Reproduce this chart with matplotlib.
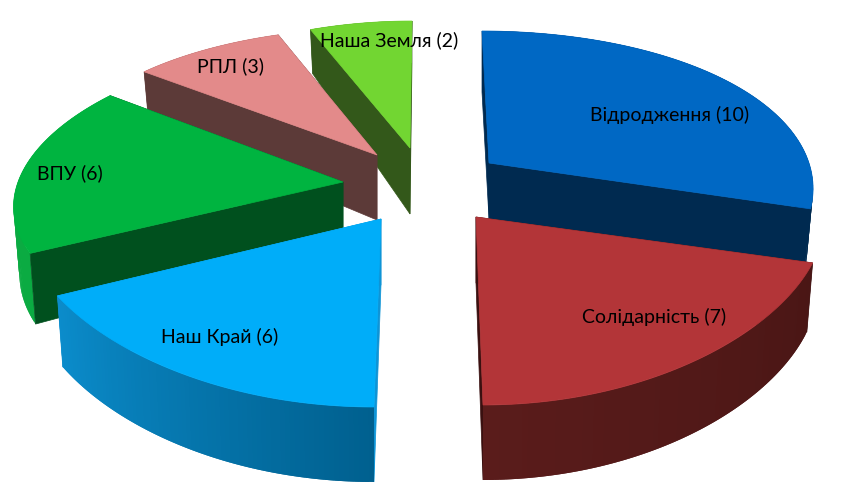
import matplotlib
matplotlib.use("Agg")
import matplotlib.pyplot as plt
from matplotlib.colors import to_rgb
import numpy as np

# ---- data ----
parties = ["Відродження", "Солідарність", "Наш Край", "ВПУ", "РПЛ", "Наша Земля"]
seats = [10, 7, 6, 6, 3, 2]

# ---- look of each slice (same order as parties) ----
top_colors = ["#0068c4", "#b33538", "#00adf9", "#00b440", "#e38a8a", "#72d632"]
radial_colors = ["#002a50", "#3a1010", "#0e94d6", "#00501e", "#5c3a38", "#33581a"]
rim_start = ["#002a50", "#4a1615", "#00608f", "#0bab42", "#5c3a38", "#33581a"]
rim_end = ["#002a50", "#5a1c1b", "#0b8ccb", "#0bab42", "#5c3a38", "#5aa528"]
apex_x = [489, 476, 381, 343, 377, 410]
apex_y = [163, 217, 219, 182, 155, 148]
rx_base = [320, 348, 358, 325, 325, 332]
rx_k = [45, 0, 0, 55, 55, 55]
ry_base = [160, 160, 160, 153, 155, 127]
ry_k = [28, 28, 28, 16, 28, 0]
shear = [-7, -7, 7, 0, 0, 2]
apex_depth = [56, 66, 66, 60, 65, 66]
rim_depth = [61, 67, 68, 64, 62, 72]
rim_depth_k = [0, 8, 7, 15, 15, 30]
label_x = [670, 654, 220, 70, 231, 389]
label_y = [115, 317, 337, 173, 66, 40]
draw_order = [5, 4, 3, 2, 0, 1]


def rim_points(i, theta):
    s, c = np.sin(theta), np.cos(theta)
    rx = rx_base[i] - rx_k[i] * c
    ry = ry_base[i] - ry_k[i] * c
    x = apex_x[i] + rx * s + shear[i] * c
    y = apex_y[i] - ry * c
    d = rim_depth[i] - rim_depth_k[i] * c
    return x, y, x - 6 * s, y + d


fig = plt.figure(figsize=(8.5, 5.01), dpi=100)
ax = fig.add_axes([0, 0, 1, 1])
ax.set_xlim(0, 850)
ax.set_ylim(501, 0)
ax.axis("off")

edges = np.radians(np.cumsum([0] + seats) / sum(seats) * 360)

for i in draw_order:
    t = np.linspace(edges[i], edges[i + 1], 80)
    x, y, xb, yb = rim_points(i, t)
    ax0, ay0 = apex_x[i], apex_y[i]
    ay1 = ay0 + apex_depth[i]
    start_wall = ([ax0, ax0, xb[0], x[0]], [ay0, ay1, yb[0], y[0]])
    end_wall = ([ax0, ax0, xb[-1], x[-1]], [ay0, ay1, yb[-1], y[-1]])

    # walls facing away go under the rim, the front one on top of it
    if i < 3:
        ax.fill(*start_wall, color=radial_colors[i], lw=0.5)
    if i > 0:
        ax.fill(*end_wall, color=radial_colors[i], lw=0.5)

    # rim wall in thin overlapping strips for the gradient
    c0, c1 = np.array(to_rgb(rim_start[i])), np.array(to_rgb(rim_end[i]))
    for j in range(len(t) - 1):
        k = min(j + 2, len(t) - 1)
        f = j / (len(t) - 2)
        ax.fill([x[j], x[k], xb[k], xb[j]],
                [y[j], y[k], yb[k], yb[j]],
                color=c0 + (c1 - c0) * f, lw=0)

    if i == 0:
        ax.fill(*end_wall, color=radial_colors[i], lw=0.5)
    if i >= 3:
        ax.fill(*start_wall, color=radial_colors[i], lw=0.5)

    # top of the slice
    ax.fill(np.r_[ax0, x], np.r_[ay0, y], color=top_colors[i], lw=0.5)

for name, n, lx, ly in zip(parties, seats, label_x, label_y):
    ax.text(lx, ly, f"{name} ({n})", ha="center", va="center",
            fontsize=14, family=["Lato", "Open Sans"], color="black")

plt.savefig("out.png", dpi=100)
